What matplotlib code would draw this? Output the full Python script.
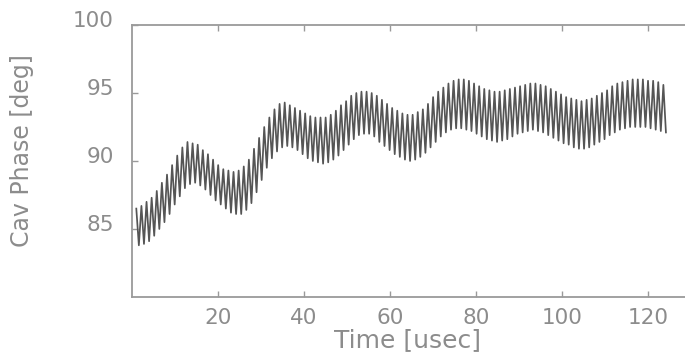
import numpy as np
import matplotlib
matplotlib.use("Agg")
import matplotlib.pyplot as plt
from matplotlib.transforms import ScaledTranslation

# ---- data ----
# time of first fast-oscillation crest and crest spacing [usec]
t_start = 1.0
t_period = 1.19

# crest (upper) values of each fast cycle [deg]
upper = [86.5, 86.7, 87.0, 87.3, 87.8, 88.4, 89.0, 89.7, 90.4, 91.0,
         91.4, 91.3, 91.2, 90.8, 90.5, 90.1, 89.7, 89.4, 89.3, 89.2,
         89.3, 89.6, 90.1, 90.9, 91.7, 92.5, 93.2, 93.8, 94.2, 94.3,
         94.1, 93.9, 93.7, 93.5, 93.3, 93.2, 93.2, 93.2, 93.4, 93.7,
         94.1, 94.4, 94.8, 95.0, 95.1, 95.1, 95.0, 94.8, 94.5, 94.2,
         93.9, 93.7, 93.5, 93.4, 93.4, 93.6, 93.8, 94.2, 94.7, 95.1,
         95.4, 95.7, 95.9, 96.0, 96.0, 95.9, 95.7, 95.5, 95.3, 95.2,
         95.1, 95.1, 95.2, 95.3, 95.4, 95.5, 95.6, 95.7, 95.7, 95.6,
         95.5, 95.3, 95.1, 94.9, 94.7, 94.6, 94.5, 94.4, 94.5, 94.6,
         94.8, 95.0, 95.2, 95.5, 95.7, 95.8, 95.9, 96.0, 96.0, 96.0,
         95.9, 95.9, 95.8, 95.6]

# trough (lower) values of each fast cycle [deg]
lower = [83.8, 83.9, 84.1, 84.5, 85.0, 85.5, 86.1, 86.8, 87.4, 88.0,
         88.3, 88.4, 88.2, 87.9, 87.5, 87.1, 86.8, 86.5, 86.2, 86.1,
         86.1, 86.4, 86.9, 87.7, 88.6, 89.5, 90.2, 90.7, 91.0, 91.1,
         91.0, 90.8, 90.5, 90.2, 90.0, 89.9, 89.8, 89.9, 90.1, 90.4,
         90.8, 91.2, 91.6, 91.9, 92.0, 92.0, 91.8, 91.4, 91.1, 90.8,
         90.5, 90.3, 90.1, 90.0, 90.1, 90.3, 90.6, 91.0, 91.4, 91.8,
         92.1, 92.3, 92.4, 92.4, 92.3, 92.2, 92.0, 91.8, 91.6, 91.5,
         91.4, 91.5, 91.6, 91.8, 92.0, 92.1, 92.2, 92.3, 92.2, 92.1,
         91.9, 91.7, 91.5, 91.3, 91.2, 91.0, 90.9, 90.9, 91.0, 91.2,
         91.4, 91.6, 91.9, 92.1, 92.3, 92.4, 92.5, 92.5, 92.5, 92.5,
         92.4, 92.3, 92.2, 92.1]

x_ticks = [20, 40, 60, 80, 100, 120]
y_ticks = [85, 90, 95, 100]
x_label = "Time [usec]"
y_label = "Cav Phase [deg]"

# ---- build the alternating crest/trough sequence ----
n = len(upper)
t_up = t_start + t_period * np.arange(n)
t_lo = t_up + t_period / 2
t = np.empty(2 * n)
y = np.empty(2 * n)
t[0::2], t[1::2] = t_up, t_lo
y[0::2], y[1::2] = upper, lower

W, H = 685, 357
fig = plt.figure(figsize=(W / 100, H / 100), dpi=100)
ax = fig.add_axes([132 / W, 1 - 297 / H, (W - 132) / W, 272 / H])

ax.plot(t, y, color="#555555", lw=1.25)

ax.set_xlim(0, 128.6)
ax.set_ylim(80, 100)
ax.set_xticks(x_ticks)
ax.set_yticks(y_ticks)

gray = "#8c8c8c"
for s in ["left", "bottom", "top"]:
    ax.spines[s].set_color("#9a9a9a")
    ax.spines[s].set_linewidth(1.3)
ax.spines["right"].set_visible(False)

ax.tick_params(axis="both", direction="in", length=4, width=1.0,
               color="#9a9a9a", labelcolor=gray, labelsize=15.5)
ax.tick_params(axis="x", top=True, pad=8)
ax.tick_params(axis="y", pad=13)

# y tick labels sit slightly above their ticks in the reference
off = ScaledTranslation(0, 6 / 100, fig.dpi_scale_trans)
for lab in ax.get_yticklabels():
    lab.set_transform(lab.get_transform() + off)

fig.text(408 / W, 1 - 340 / H, x_label, ha="center", va="center",
         fontsize=18, color=gray)
fig.text(22 / W, 1 - 151 / H, y_label, ha="center", va="center",
         rotation=90, fontsize=17, color=gray)

fig.savefig("out.png", dpi=100)
